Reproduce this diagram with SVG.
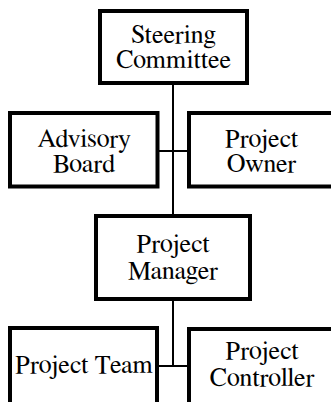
<svg xmlns="http://www.w3.org/2000/svg" width="331" height="402" viewBox="0 0 331 402">
  <style>
    .box { fill: #ffffff; stroke: #000000; stroke-width: 4; }
    .link { stroke: #000000; stroke-width: 2; fill: none; }
    text { font-family: FreeSerif, "DejaVu Serif", serif; font-size: 26px; fill: #000000; text-anchor: middle; }
  </style>
  <rect width="331" height="402" fill="#ffffff"/>
  <!-- connectors: main spine with two cross bars -->
  <g id="connectors">
    <line class="link" x1="173" y1="84" x2="173" y2="216"/>
    <line class="link" x1="158" y1="151" x2="188" y2="151"/>
    <line class="link" x1="173" y1="300" x2="173" y2="366"/>
    <line class="link" x1="158" y1="366" x2="188" y2="366"/>
  </g>
  <g id="steering-committee">
    <rect class="box" x="100" y="11" width="147" height="72"/>
    <text x="173.5" y="43">Steering</text>
    <text x="173.5" y="68">Committee</text>
  </g>
  <g id="advisory-board">
    <rect class="box" x="10" y="113" width="147.5" height="73.5"/>
    <text x="84" y="147">Advisory</text>
    <text x="84" y="172">Board</text>
  </g>
  <g id="project-owner">
    <rect class="box" x="189" y="113" width="147" height="73.5"/>
    <text x="261.5" y="147">Project</text>
    <text x="261.5" y="172">Owner</text>
  </g>
  <g id="project-manager">
    <rect class="box" x="96" y="216" width="154" height="83"/>
    <text x="173" y="252">Project</text>
    <text x="173" y="279">Manager</text>
  </g>
  <g id="project-team">
    <rect class="box" x="10" y="328" width="147" height="100"/>
    <text x="84" y="373">Project Team</text>
  </g>
  <g id="project-controller">
    <rect class="box" x="189" y="329" width="147" height="100"/>
    <text x="262" y="359">Project</text>
    <text x="262" y="386">Controller</text>
  </g>
</svg>
